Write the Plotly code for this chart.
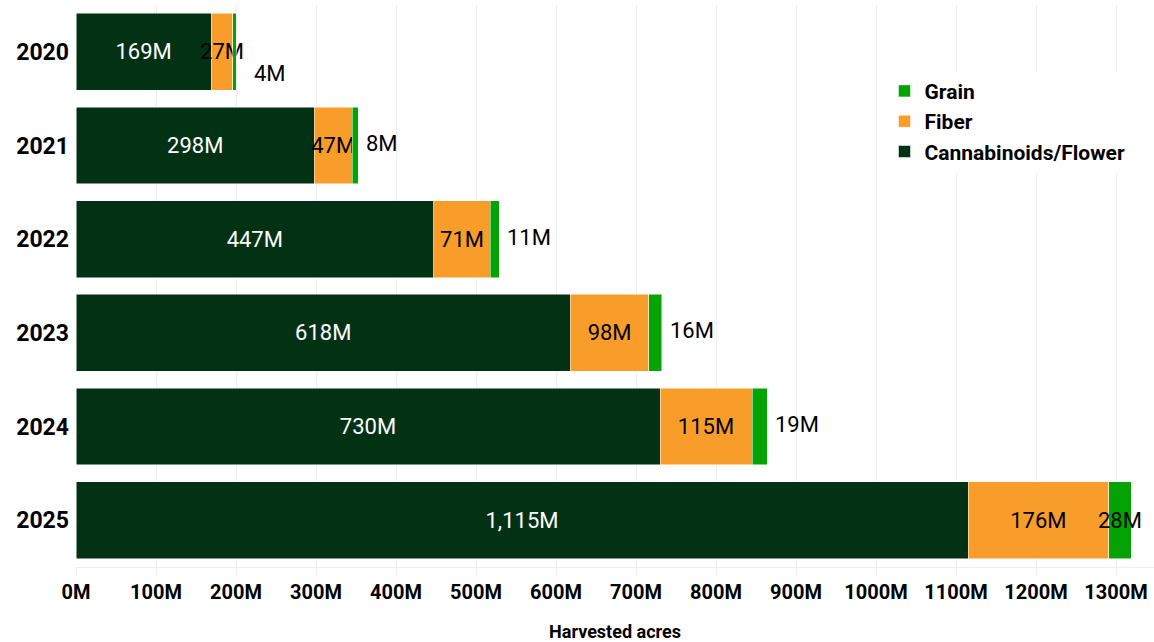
import plotly.graph_objects as go

years = ["2020", "2021", "2022", "2023", "2024", "2025"]
flower = [169, 298, 447, 618, 730, 1115]
fiber = [27, 47, 71, 98, 115, 176]
grain = [4, 8, 11, 16, 19, 28]
tick_vals = list(range(0, 1400, 100))
tick_text = [f"{v}M" for v in tick_vals]

# label placement style for grain labels (not data)
grain_label_mode = ["below", "out", "out", "out", "out", "center"]

FONT = "Roboto, Liberation Sans, sans-serif"

def fmt(v):
    return f"{v:,}M"

common = dict(orientation="h", textangle=0, constraintext="none",
              insidetextanchor="middle", cliponaxis=False)

fig = go.Figure()
fig.add_trace(go.Bar(
    y=years, x=flower, name="Cannabinoids/Flower",
    marker=dict(color="#033113", line=dict(color="white", width=0.5)),
    text=[fmt(v) for v in flower], textposition="inside",
    textfont=dict(color="white", size=22, family=FONT), **common,
))
fig.add_trace(go.Bar(
    y=years, x=fiber, name="Fiber",
    marker=dict(color="#F99D2A", line=dict(color="white", width=0.5)),
    text=[fmt(v) for v in fiber], textposition="inside",
    textfont=dict(color="black", size=22, family=FONT), **common,
))
fig.add_trace(go.Bar(
    y=years, x=grain, name="Grain", orientation="h",
    marker=dict(color="#02A302", line=dict(color="white", width=0.5)),
))

for i, (f, fb, g, mode) in enumerate(zip(flower, fiber, grain, grain_label_mode)):
    end = f + fb + g
    if mode == "center":
        fig.add_annotation(x=end - g / 2, y=i, xref="x", yref="y", text=fmt(g),
                           showarrow=False, xanchor="center", yanchor="middle",
                           font=dict(size=22, family=FONT, color="black"))
    else:
        fig.add_annotation(x=end, y=i, xref="x", yref="y", text=fmt(g),
                           showarrow=False, xanchor="left", yanchor="middle",
                           xshift=16 if mode == "below" else 6,
                           yshift=-22 if mode == "below" else 2,
                           font=dict(size=22, family=FONT, color="black"))

fig.update_layout(
    width=1154, height=642,
    barmode="stack", bargap=0.18,
    plot_bgcolor="white", paper_bgcolor="white",
    margin=dict(l=76, r=0, t=5, b=75),
    font=dict(family=FONT, color="black"),
    legend=dict(x=0.75, y=0.883, xanchor="left", yanchor="top",
                traceorder="reversed",
                font=dict(size=21, family=FONT, weight="bold"),
                itemwidth=30, tracegroupgap=0),
)
fig.update_xaxes(
    range=[0, 1347.5], tickvals=tick_vals, ticktext=tick_text,
    showgrid=True, gridcolor="#eeeeee", gridwidth=1,
    showline=True, linecolor="#eeeeee",
    ticks="outside", ticklen=7, tickcolor="#eeeeee",
    tickfont=dict(size=20, family=FONT, weight="bold"),
    title=dict(text="Harvested acres", font=dict(size=18, family=FONT, weight="bold"), standoff=23),
    zeroline=False, automargin=False,
)
fig.update_yaxes(
    type="category", categoryorder="array", categoryarray=years,
    autorange="reversed", showgrid=False,
    tickfont=dict(size=23, family=FONT, weight="bold"),
    ticks="", ticklabelstandoff=6, automargin=False,
)

fig.write_html("out.html", config={"displayModeBar": False},
               post_script="document.body.style.margin='0';document.body.style.overflow='hidden';")
